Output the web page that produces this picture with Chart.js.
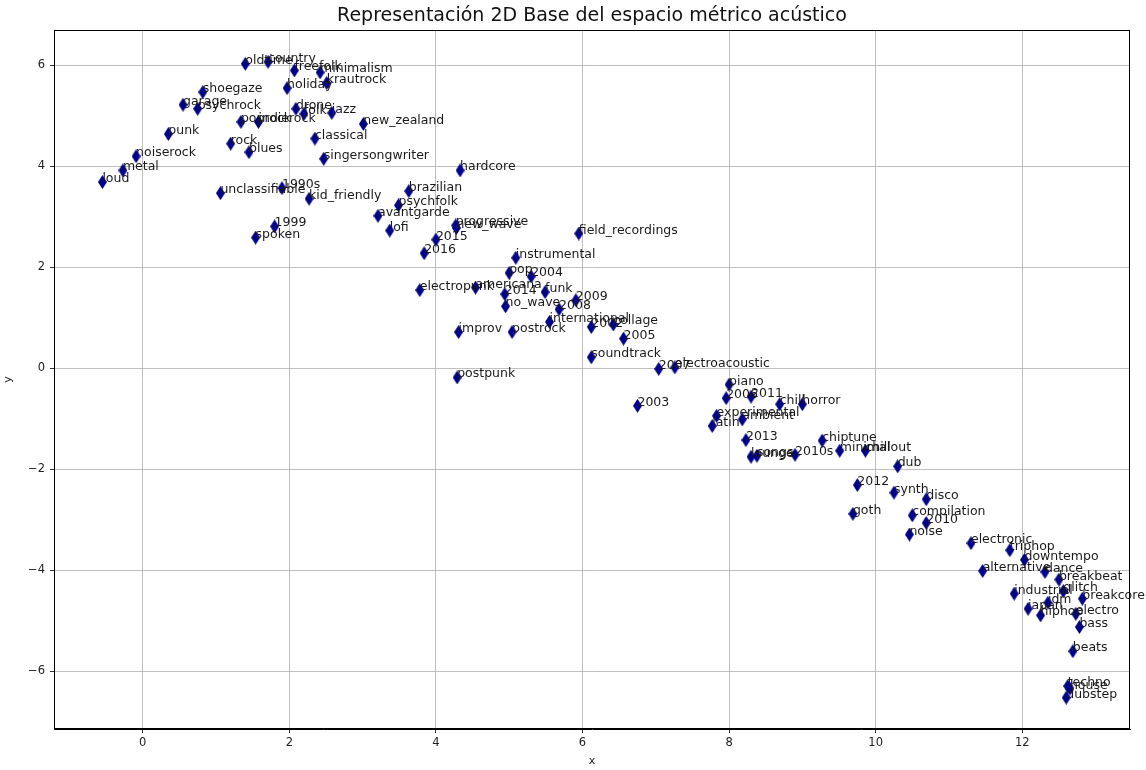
<!DOCTYPE html>
<html>
<head>
<meta charset="utf-8">
<script src="https://cdn.jsdelivr.net/npm/chart.js@4.4.1/dist/chart.umd.min.js"></script>
<style>
  body { margin: 0; background: #fff; }
  canvas { display: block; }
</style>
</head>
<body>
<canvas id="chartCanvas" width="1146" height="770"></canvas>
<script>
// etiquetas y coordenadas 2D de cada género / año
const genres = [
  "oldtime", "country", "freefolk", "minimalism", "krautrock", "holiday", "shoegaze", "garage",
  "psychrock", "drone", "folk", "jazz", "poprock", "indierock", "new_zealand", "punk",
  "rock", "blues", "classical", "singersongwriter", "noiserock", "metal", "loud", "unclassifiable",
  "1990s", "kid_friendly", "1999", "spoken", "hardcore", "brazilian", "psychfolk", "avantgarde",
  "lofi", "progressive", "new_wave", "2015", "2016", "field_recordings", "instrumental", "pop",
  "2004", "electropunk", "americana", "2014", "funk", "no_wave", "2008", "2009",
  "international", "improv", "postrock", "2002", "collage", "2005", "soundtrack", "2007",
  "electroacoustic", "postpunk", "2003", "piano", "2006", "2011", "chill", "horror",
  "experimental", "ambient", "latin", "2013", "lounge", "songs", "2010s", "chiptune",
  "minimal", "chillout", "dub", "2012", "synth", "disco", "goth", "compilation",
  "2010", "noise", "electronic", "triphop", "downtempo", "alternative", "dance", "breakbeat",
  "industrial", "glitch", "breakcore", "idm", "japan", "hiphop", "electro", "bass",
  "beats", "techno", "house", "dubstep"
];

const xs = [
  1.40, 1.71, 2.07, 2.42, 2.51, 1.97, 0.82, 0.55,
  0.75, 2.09, 2.20, 2.58, 1.34, 1.58, 3.01, 0.35,
  1.20, 1.45, 2.35, 2.47, -0.09, -0.27, -0.55, 1.06,
  1.90, 2.27, 1.80, 1.54, 4.33, 3.63, 3.49, 3.21,
  3.37, 4.27, 4.28, 4.00, 3.84, 5.95, 5.09, 5.00,
  5.30, 3.78, 4.54, 4.94, 5.49, 4.95, 5.68, 5.91,
  5.55, 4.31, 5.04, 6.12, 6.42, 6.56, 6.12, 7.04,
  7.26, 4.29, 6.75, 8.00, 7.96, 8.30, 8.69, 9.00,
  7.83, 8.18, 7.77, 8.23, 8.30, 8.38, 8.90, 9.27,
  9.51, 9.86, 10.30, 9.75, 10.25, 10.69, 9.69, 10.50,
  10.69, 10.46, 11.30, 11.83, 12.03, 11.46, 12.31, 12.50,
  11.89, 12.56, 12.82, 12.35, 12.08, 12.25, 12.73, 12.78,
  12.69, 12.62, 12.65, 12.60
];

const ys = [
  6.03, 6.07, 5.90, 5.86, 5.65, 5.55, 5.47, 5.22,
  5.14, 5.14, 5.04, 5.06, 4.88, 4.88, 4.84, 4.64,
  4.45, 4.28, 4.55, 4.15, 4.20, 3.92, 3.69, 3.47,
  3.57, 3.36, 2.81, 2.59, 3.92, 3.51, 3.23, 3.02,
  2.73, 2.83, 2.78, 2.55, 2.28, 2.67, 2.19, 1.89,
  1.82, 1.55, 1.60, 1.47, 1.51, 1.23, 1.17, 1.35,
  0.92, 0.72, 0.72, 0.82, 0.87, 0.59, 0.22, -0.01,
  0.02, -0.18, -0.74, -0.32, -0.59, -0.56, -0.71, -0.71,
  -0.94, -1.01, -1.14, -1.42, -1.75, -1.73, -1.71, -1.43,
  -1.63, -1.63, -1.94, -2.31, -2.46, -2.59, -2.88, -2.91,
  -3.06, -3.29, -3.46, -3.60, -3.79, -4.01, -4.03, -4.18,
  -4.46, -4.41, -4.56, -4.64, -4.76, -4.89, -4.86, -5.12,
  -5.60, -6.29, -6.34, -6.52
];

const xRange = [-1.21, 13.47];
const yRange = [-7.14, 6.70];
const tickStep = 2;

const chartTitle = "Representación 2D Base del espacio métrico acústico";
const FONT = "'DejaVu Sans', sans-serif";

// marcador en forma de rombo fino
function thinDiamond(w, h, color) {
  const c = document.createElement("canvas");
  c.width = w;
  c.height = h;
  const g = c.getContext("2d");
  g.fillStyle = color;
  g.beginPath();
  g.moveTo(w / 2, 0);
  g.lineTo(w, h / 2);
  g.lineTo(w / 2, h);
  g.lineTo(0, h / 2);
  g.closePath();
  g.fill();
  return c;
}

// texto de cada punto, con la línea base en el propio punto
const pointLabels = {
  id: "pointLabels",
  afterDatasetsDraw(chart) {
    const ctx = chart.ctx;
    const meta = chart.getDatasetMeta(0);
    ctx.save();
    ctx.font = "12.5px " + FONT;
    ctx.fillStyle = "#1a1a1a";
    ctx.textAlign = "left";
    ctx.textBaseline = "alphabetic";
    meta.data.forEach((pt, i) => {
      ctx.fillText(genres[i], pt.x, pt.y);
    });
    ctx.restore();
  },
};

// marco completo y título centrado sobre el área de trazado
const frame = {
  id: "frame",
  afterDraw(chart) {
    const { ctx, chartArea: a } = chart;
    ctx.save();
    ctx.strokeStyle = "#000";
    ctx.lineWidth = 1;
    ctx.strokeRect(a.left + 0.5, a.top + 0.5, a.right - a.left - 1, a.bottom - a.top - 1);
    ctx.font = "19px " + FONT;
    ctx.fillStyle = "#111";
    ctx.textAlign = "center";
    ctx.textBaseline = "middle";
    ctx.fillText(chartTitle, (a.left + a.right) / 2, 16);
    ctx.restore();
  },
};

const minus = (v) => String(v).replace("-", "\u2212");

const ctx = document.getElementById("chartCanvas").getContext("2d");
new Chart(ctx, {
  type: "scatter",
  data: {
    datasets: [{
      data: xs.map((x, i) => ({ x, y: ys[i] })),
      pointStyle: thinDiamond(9, 14, "#00008b"),
      pointRadius: 7,
    }],
  },
  options: {
    responsive: false,
    animation: false,
    layout: { padding: { top: 30, right: 16 } },
    plugins: {
      legend: { display: false },
      tooltip: { enabled: false },
    },
    scales: {
      x: {
        type: "linear",
        min: xRange[0],
        max: xRange[1],
        afterFit: (s) => { s.height = 41; },
        grid: { color: "#b0b0b0", lineWidth: 0.8, tickLength: 4, tickColor: "#000" },
        border: { color: "#000" },
        ticks: {
          stepSize: tickStep,
          includeBounds: false,
          padding: 3,
          color: "#222",
          font: { family: FONT, size: 11.5 },
          callback: minus,
        },
        title: { display: true, text: "x", color: "#222", font: { family: FONT, size: 11 }, padding: 2 },
      },
      y: {
        type: "linear",
        min: yRange[0],
        max: yRange[1],
        afterFit: (s) => { s.width = 54; },
        grid: { color: "#b0b0b0", lineWidth: 0.8, tickLength: 4, tickColor: "#000" },
        border: { color: "#000" },
        ticks: {
          stepSize: tickStep,
          includeBounds: false,
          padding: 5,
          color: "#222",
          font: { family: FONT, size: 11.5 },
          callback: minus,
        },
        title: { display: true, text: "y", color: "#222", font: { family: FONT, size: 11 }, padding: 2 },
      },
    },
  },
  plugins: [pointLabels, frame],
});
</script>
</body>
</html>
